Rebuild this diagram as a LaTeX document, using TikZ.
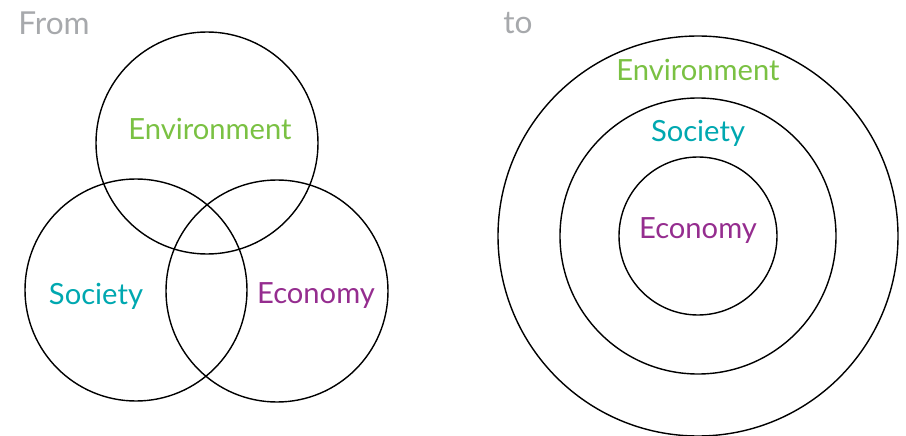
\documentclass[tikz,border=0pt]{standalone}
\usepackage{fontspec}
\setmainfont{Lato}
\usepackage{xcolor}
\usepackage{tikz}
\usetikzlibrary{positioning}

\definecolor{envgreen}{HTML}{7AC143}
\definecolor{socteal}{HTML}{00A8B0}
\definecolor{ecopurple}{HTML}{952D8F}
\definecolor{headgray}{HTML}{A7A9AC}

\begin{document}
\begin{tikzpicture}

  \tikzstyle{ring}=[circle, draw, line width=0.8pt, inner sep=0pt]
  \tikzstyle{label}=[font=\fontsize{16.6}{18}\selectfont]
  \tikzstyle{env}=[label, text=envgreen]
  \tikzstyle{soc}=[label, text=socteal]
  \tikzstyle{eco}=[label, text=ecopurple]
  \tikzstyle{head}=[anchor=west, inner sep=0pt, text=headgray, font=\fontsize{18}{20}\selectfont]

  \useasboundingbox (0, 0) rectangle (18.12, -8.72);

  % from: three overlapping circles
  \node [ring, minimum size=4.44cm] (env-from) at (4.14, -2.86) {};
  \node [ring, minimum size=4.44cm] (soc-from) at (2.72, -5.80) {};
  \node [ring, minimum size=4.44cm] (eco-from) at (5.54, -5.82) {};

  \node [head] (from) at (0.36, -0.46) {From};
  \node [env] (env-from-text) at (4.20, -2.58) {Environment};
  \node [soc] (soc-from-text) at (1.92, -5.92) {Society};
  \node [eco] (eco-from-text) at (6.32, -5.92) {Economy};

  % to: nested circles
  \node [ring, minimum size=8.00cm] (env-to) at (13.96, -4.72) {};
  \node [ring, minimum size=5.52cm] (soc-to) at (13.96, -4.72) {};
  \node [ring, minimum size=3.16cm] (eco-to) at (13.96, -4.72) {};

  \node [head] (to) at (10.06, -0.46) {to};
  \node [env] (env-to-text) at (13.96, -1.40) {Environment};
  \node [soc] (soc-to-text) at (13.96, -2.66) {Society};
  \node [eco] (eco-to-text) at (13.96, -4.62) {Economy};

\end{tikzpicture}
\end{document}
